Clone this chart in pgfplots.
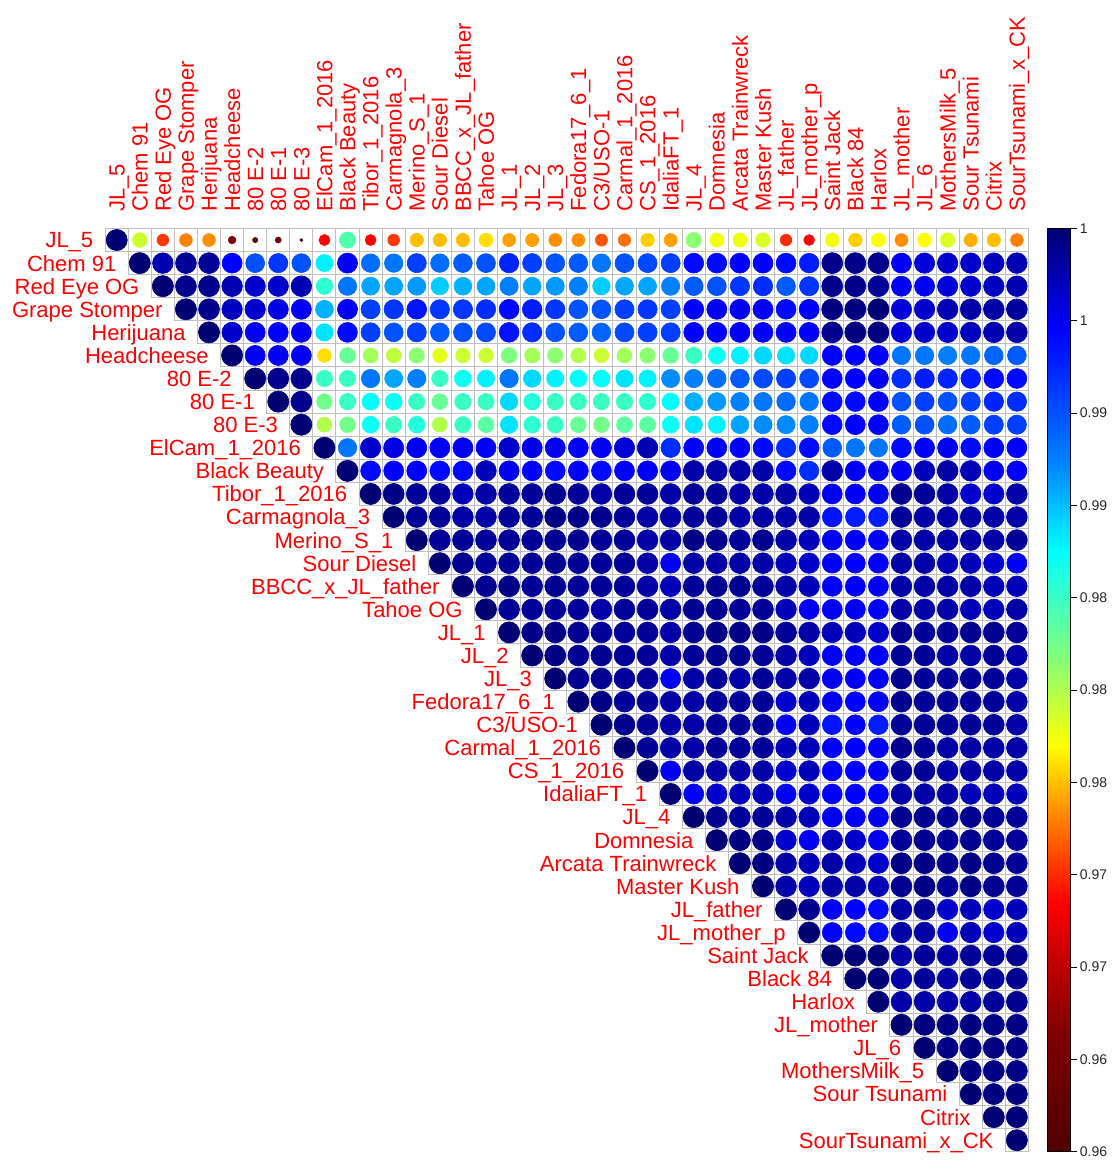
\documentclass[border=0pt]{standalone}
\usepackage{fontspec}
\setmainfont{Liberation Sans}
\usepackage{pgfplots}
\usepackage{pgfplotstable}
\pgfplotsset{compat=1.18}
\pgfplotsset{colormap={corrjet}{
 rgb255(0pt)=(80,0,0)
 rgb255(13pt)=(127,0,0)
 rgb255(27pt)=(255,0,0)
 rgb255(36pt)=(255,127,0)
 rgb255(44pt)=(255,255,0)
 rgb255(54pt)=(127,255,127)
 rgb255(65pt)=(0,255,255)
 rgb255(75pt)=(0,127,255)
 rgb255(89pt)=(0,0,255)
 rgb255(100pt)=(0,0,115)
}}
\pgfplotstableread[row sep=\\]{
c r v\\
0 0 1.0000\\ 1 0 0.9792\\ 2 0 0.9724\\ 3 0 0.9744\\ 4 0 0.9748\\ 5 0 0.9652\\ 6 0 0.9624\\ 7 0 0.9632\\ 8 0 0.9608\\ 9 0 0.9708\\ 10 0 0.9832\\ 11 0 0.9708\\ 12 0 0.9724\\ 13 0 0.9760\\ 14 0 0.9760\\ 15 0 0.9760\\ 16 0 0.9768\\ 17 0 0.9752\\ 18 0 0.9752\\ 19 0 0.9748\\ 20 0 0.9748\\ 21 0 0.9732\\ 22 0 0.9740\\ 23 0 0.9764\\ 24 0 0.9752\\ 25 0 0.9812\\ 26 0 0.9780\\ 27 0 0.9780\\ 28 0 0.9788\\ 29 0 0.9720\\ 30 0 0.9704\\ 31 0 0.9780\\ 32 0 0.9764\\ 33 0 0.9776\\ 34 0 0.9748\\ 35 0 0.9776\\ 36 0 0.9788\\ 37 0 0.9756\\ 38 0 0.9760\\ 39 0 0.9744\\
1 1 1.0000\\ 2 1 0.9980\\ 3 1 0.9988\\ 4 1 0.9988\\ 5 1 0.9956\\ 6 1 0.9920\\ 7 1 0.9932\\ 8 1 0.9920\\ 9 1 0.9864\\ 10 1 0.9960\\ 11 1 0.9908\\ 12 1 0.9904\\ 13 1 0.9928\\ 14 1 0.9908\\ 15 1 0.9916\\ 16 1 0.9920\\ 17 1 0.9940\\ 18 1 0.9928\\ 19 1 0.9920\\ 20 1 0.9916\\ 21 1 0.9904\\ 22 1 0.9920\\ 23 1 0.9924\\ 24 1 0.9928\\ 25 1 0.9952\\ 26 1 0.9952\\ 27 1 0.9956\\ 28 1 0.9956\\ 29 1 0.9952\\ 30 1 0.9944\\ 31 1 0.9992\\ 32 1 0.9992\\ 33 1 0.9992\\ 34 1 0.9960\\ 35 1 0.9968\\ 36 1 0.9972\\ 37 1 0.9972\\ 38 1 0.9976\\ 39 1 0.9980\\
2 2 1.0000\\ 3 2 0.9992\\ 4 2 0.9992\\ 5 2 0.9980\\ 6 2 0.9972\\ 7 2 0.9972\\ 8 2 0.9980\\ 9 2 0.9844\\ 10 2 0.9904\\ 11 2 0.9888\\ 12 2 0.9888\\ 13 2 0.9892\\ 14 2 0.9876\\ 15 2 0.9884\\ 16 2 0.9888\\ 17 2 0.9900\\ 18 2 0.9888\\ 19 2 0.9892\\ 20 2 0.9900\\ 21 2 0.9876\\ 22 2 0.9888\\ 23 2 0.9888\\ 24 2 0.9900\\ 25 2 0.9916\\ 26 2 0.9920\\ 27 2 0.9932\\ 28 2 0.9936\\ 29 2 0.9916\\ 30 2 0.9932\\ 31 2 0.9992\\ 32 2 0.9992\\ 33 2 0.9988\\ 34 2 0.9960\\ 35 2 0.9960\\ 36 2 0.9968\\ 37 2 0.9972\\ 38 2 0.9976\\ 39 2 0.9980\\
3 3 1.0000\\ 4 3 0.9992\\ 5 3 0.9976\\ 6 3 0.9972\\ 7 3 0.9964\\ 8 3 0.9960\\ 9 3 0.9884\\ 10 3 0.9960\\ 11 3 0.9928\\ 12 3 0.9932\\ 13 3 0.9948\\ 14 3 0.9932\\ 15 3 0.9932\\ 16 3 0.9936\\ 17 3 0.9952\\ 18 3 0.9944\\ 19 3 0.9932\\ 20 3 0.9920\\ 21 3 0.9920\\ 22 3 0.9928\\ 23 3 0.9932\\ 24 3 0.9928\\ 25 3 0.9956\\ 26 3 0.9960\\ 27 3 0.9960\\ 28 3 0.9960\\ 29 3 0.9952\\ 30 3 0.9956\\ 31 3 0.9996\\ 32 3 0.9996\\ 33 3 1.0000\\ 34 3 0.9968\\ 35 3 0.9972\\ 36 3 0.9980\\ 37 3 0.9984\\ 38 3 0.9984\\ 39 3 0.9988\\
4 4 1.0000\\ 5 4 0.9972\\ 6 4 0.9960\\ 7 4 0.9956\\ 8 4 0.9960\\ 9 4 0.9868\\ 10 4 0.9952\\ 11 4 0.9928\\ 12 4 0.9920\\ 13 4 0.9928\\ 14 4 0.9916\\ 15 4 0.9920\\ 16 4 0.9924\\ 17 4 0.9948\\ 18 4 0.9936\\ 19 4 0.9920\\ 20 4 0.9916\\ 21 4 0.9912\\ 22 4 0.9924\\ 23 4 0.9928\\ 24 4 0.9928\\ 25 4 0.9956\\ 26 4 0.9956\\ 27 4 0.9960\\ 28 4 0.9956\\ 29 4 0.9960\\ 30 4 0.9956\\ 31 4 0.9992\\ 32 4 0.9996\\ 33 4 0.9996\\ 34 4 0.9968\\ 35 4 0.9972\\ 36 4 0.9972\\ 37 4 0.9976\\ 38 4 0.9980\\ 39 4 0.9984\\
5 5 1.0000\\ 6 5 0.9960\\ 7 5 0.9960\\ 8 5 0.9960\\ 9 5 0.9768\\ 10 5 0.9824\\ 11 5 0.9804\\ 12 5 0.9796\\ 13 5 0.9812\\ 14 5 0.9784\\ 15 5 0.9792\\ 16 5 0.9792\\ 17 5 0.9816\\ 18 5 0.9804\\ 19 5 0.9812\\ 20 5 0.9800\\ 21 5 0.9792\\ 22 5 0.9804\\ 23 5 0.9812\\ 24 5 0.9824\\ 25 5 0.9840\\ 26 5 0.9856\\ 27 5 0.9864\\ 28 5 0.9872\\ 29 5 0.9868\\ 30 5 0.9872\\ 31 5 0.9956\\ 32 5 0.9956\\ 33 5 0.9956\\ 34 5 0.9904\\ 35 5 0.9904\\ 36 5 0.9900\\ 37 5 0.9904\\ 38 5 0.9912\\ 39 5 0.9916\\
6 6 1.0000\\ 7 6 0.9992\\ 8 6 0.9992\\ 9 6 0.9840\\ 10 6 0.9840\\ 11 6 0.9904\\ 12 6 0.9888\\ 13 6 0.9900\\ 14 6 0.9840\\ 15 6 0.9856\\ 16 6 0.9864\\ 17 6 0.9904\\ 18 6 0.9872\\ 19 6 0.9864\\ 20 6 0.9860\\ 21 6 0.9860\\ 22 6 0.9868\\ 23 6 0.9864\\ 24 6 0.9896\\ 25 6 0.9900\\ 26 6 0.9908\\ 27 6 0.9916\\ 28 6 0.9924\\ 29 6 0.9928\\ 30 6 0.9924\\ 31 6 0.9956\\ 32 6 0.9956\\ 33 6 0.9960\\ 34 6 0.9936\\ 35 6 0.9944\\ 36 6 0.9940\\ 37 6 0.9944\\ 38 6 0.9952\\ 39 6 0.9952\\
7 7 1.0000\\ 8 7 0.9992\\ 9 7 0.9820\\ 10 7 0.9840\\ 11 7 0.9860\\ 12 7 0.9856\\ 13 7 0.9840\\ 14 7 0.9824\\ 15 7 0.9840\\ 16 7 0.9840\\ 17 7 0.9872\\ 18 7 0.9848\\ 19 7 0.9840\\ 20 7 0.9840\\ 21 7 0.9840\\ 22 7 0.9840\\ 23 7 0.9844\\ 24 7 0.9860\\ 25 7 0.9884\\ 26 7 0.9892\\ 27 7 0.9900\\ 28 7 0.9904\\ 29 7 0.9908\\ 30 7 0.9904\\ 31 7 0.9952\\ 32 7 0.9952\\ 33 7 0.9956\\ 34 7 0.9920\\ 35 7 0.9928\\ 36 7 0.9920\\ 37 7 0.9928\\ 38 7 0.9940\\ 39 7 0.9936\\
8 8 1.0000\\ 9 8 0.9800\\ 10 8 0.9820\\ 11 8 0.9856\\ 12 8 0.9840\\ 13 8 0.9848\\ 14 8 0.9800\\ 15 8 0.9840\\ 16 8 0.9828\\ 17 8 0.9868\\ 18 8 0.9844\\ 19 8 0.9840\\ 20 8 0.9824\\ 21 8 0.9820\\ 22 8 0.9828\\ 23 8 0.9828\\ 24 8 0.9856\\ 25 8 0.9868\\ 26 8 0.9864\\ 27 8 0.9888\\ 28 8 0.9896\\ 29 8 0.9896\\ 30 8 0.9900\\ 31 8 0.9952\\ 32 8 0.9956\\ 33 8 0.9956\\ 34 8 0.9916\\ 35 8 0.9920\\ 36 8 0.9908\\ 37 8 0.9916\\ 38 8 0.9928\\ 39 8 0.9928\\
9 9 1.0000\\ 10 9 0.9904\\ 11 9 0.9972\\ 12 9 0.9964\\ 13 9 0.9960\\ 14 9 0.9960\\ 15 9 0.9960\\ 16 9 0.9956\\ 17 9 0.9972\\ 18 9 0.9964\\ 19 9 0.9960\\ 20 9 0.9956\\ 21 9 0.9960\\ 22 9 0.9968\\ 23 9 0.9980\\ 24 9 0.9936\\ 25 9 0.9956\\ 26 9 0.9956\\ 27 9 0.9956\\ 28 9 0.9952\\ 29 9 0.9936\\ 30 9 0.9952\\ 31 9 0.9916\\ 32 9 0.9904\\ 33 9 0.9904\\ 34 9 0.9952\\ 35 9 0.9956\\ 36 9 0.9960\\ 37 9 0.9952\\ 38 9 0.9956\\ 39 9 0.9956\\
10 10 1.0000\\ 11 10 0.9952\\ 12 10 0.9956\\ 13 10 0.9956\\ 14 10 0.9952\\ 15 10 0.9952\\ 16 10 0.9978\\ 17 10 0.9960\\ 18 10 0.9956\\ 19 10 0.9952\\ 20 10 0.9956\\ 21 10 0.9952\\ 22 10 0.9956\\ 23 10 0.9960\\ 24 10 0.9960\\ 25 10 0.9984\\ 26 10 0.9984\\ 27 10 0.9984\\ 28 10 0.9984\\ 29 10 0.9952\\ 30 10 0.9936\\ 31 10 0.9984\\ 32 10 0.9960\\ 33 10 0.9960\\ 34 10 0.9960\\ 35 10 0.9978\\ 36 10 0.9984\\ 37 10 0.9978\\ 38 10 0.9960\\ 39 10 0.9960\\
11 11 1.0000\\ 12 11 0.9994\\ 13 11 0.9988\\ 14 11 0.9988\\ 15 11 0.9978\\ 16 11 0.9984\\ 17 11 0.9988\\ 18 11 0.9988\\ 19 11 0.9991\\ 20 11 0.9988\\ 21 11 0.9984\\ 22 11 0.9988\\ 23 11 0.9988\\ 24 11 0.9984\\ 25 11 0.9988\\ 26 11 0.9988\\ 27 11 0.9984\\ 28 11 0.9984\\ 29 11 0.9984\\ 30 11 0.9978\\ 31 11 0.9960\\ 32 11 0.9960\\ 33 11 0.9960\\ 34 11 0.9991\\ 35 11 0.9988\\ 36 11 0.9984\\ 37 11 0.9972\\ 38 11 0.9972\\ 39 11 0.9984\\
12 12 1.0000\\ 13 12 0.9988\\ 14 12 0.9988\\ 15 12 0.9984\\ 16 12 0.9984\\ 17 12 0.9988\\ 18 12 0.9988\\ 19 12 0.9994\\ 20 12 0.9994\\ 21 12 0.9991\\ 22 12 0.9988\\ 23 12 0.9984\\ 24 12 0.9984\\ 25 12 0.9988\\ 26 12 0.9988\\ 27 12 0.9984\\ 28 12 0.9984\\ 29 12 0.9984\\ 30 12 0.9984\\ 31 12 0.9948\\ 32 12 0.9944\\ 33 12 0.9944\\ 34 12 0.9988\\ 35 12 0.9984\\ 36 12 0.9984\\ 37 12 0.9984\\ 38 12 0.9984\\ 39 12 0.9984\\
13 13 1.0000\\ 14 13 0.9988\\ 15 13 0.9988\\ 16 13 0.9988\\ 17 13 0.9988\\ 18 13 0.9988\\ 19 13 0.9991\\ 20 13 0.9991\\ 21 13 0.9988\\ 22 13 0.9988\\ 23 13 0.9984\\ 24 13 0.9984\\ 25 13 0.9994\\ 26 13 0.9991\\ 27 13 0.9988\\ 28 13 0.9991\\ 29 13 0.9984\\ 30 13 0.9978\\ 31 13 0.9960\\ 32 13 0.9960\\ 33 13 0.9956\\ 34 13 0.9984\\ 35 13 0.9984\\ 36 13 0.9984\\ 37 13 0.9984\\ 38 13 0.9984\\ 39 13 0.9988\\
14 14 1.0000\\ 15 14 0.9991\\ 16 14 0.9988\\ 17 14 0.9988\\ 18 14 0.9988\\ 19 14 0.9991\\ 20 14 0.9988\\ 21 14 0.9988\\ 22 14 0.9988\\ 23 14 0.9984\\ 24 14 0.9960\\ 25 14 0.9984\\ 26 14 0.9984\\ 27 14 0.9984\\ 28 14 0.9984\\ 29 14 0.9978\\ 30 14 0.9972\\ 31 14 0.9956\\ 32 14 0.9956\\ 33 14 0.9956\\ 34 14 0.9984\\ 35 14 0.9984\\ 36 14 0.9978\\ 37 14 0.9978\\ 38 14 0.9972\\ 39 14 0.9960\\
15 15 1.0000\\ 16 15 0.9991\\ 17 15 0.9994\\ 18 15 0.9988\\ 19 15 0.9991\\ 20 15 0.9988\\ 21 15 0.9988\\ 22 15 0.9988\\ 23 15 0.9984\\ 24 15 0.9978\\ 25 15 0.9988\\ 26 15 0.9991\\ 27 15 0.9991\\ 28 15 0.9988\\ 29 15 0.9984\\ 30 15 0.9978\\ 31 15 0.9956\\ 32 15 0.9960\\ 33 15 0.9960\\ 34 15 0.9984\\ 35 15 0.9984\\ 36 15 0.9984\\ 37 15 0.9984\\ 38 15 0.9978\\ 39 15 0.9978\\
16 16 1.0000\\ 17 16 0.9988\\ 18 16 0.9988\\ 19 16 0.9988\\ 20 16 0.9988\\ 21 16 0.9984\\ 22 16 0.9988\\ 23 16 0.9988\\ 24 16 0.9984\\ 25 16 0.9991\\ 26 16 0.9991\\ 27 16 0.9988\\ 28 16 0.9988\\ 29 16 0.9978\\ 30 16 0.9960\\ 31 16 0.9960\\ 32 16 0.9960\\ 33 16 0.9956\\ 34 16 0.9984\\ 35 16 0.9984\\ 36 16 0.9984\\ 37 16 0.9978\\ 38 16 0.9978\\ 39 16 0.9984\\
17 17 1.0000\\ 18 17 0.9994\\ 19 17 0.9994\\ 20 17 0.9991\\ 21 17 0.9988\\ 22 17 0.9988\\ 23 17 0.9988\\ 24 17 0.9984\\ 25 17 0.9991\\ 26 17 0.9994\\ 27 17 0.9994\\ 28 17 0.9994\\ 29 17 0.9988\\ 30 17 0.9984\\ 31 17 0.9978\\ 32 17 0.9978\\ 33 17 0.9972\\ 34 17 0.9991\\ 35 17 0.9988\\ 36 17 0.9988\\ 37 17 0.9991\\ 38 17 0.9991\\ 39 17 0.9988\\
18 18 1.0000\\ 19 18 0.9994\\ 20 18 0.9991\\ 21 18 0.9991\\ 22 18 0.9988\\ 23 18 0.9988\\ 24 18 0.9984\\ 25 18 0.9988\\ 26 18 0.9991\\ 27 18 0.9991\\ 28 18 0.9988\\ 29 18 0.9984\\ 30 18 0.9978\\ 31 18 0.9960\\ 32 18 0.9960\\ 33 18 0.9956\\ 34 18 0.9988\\ 35 18 0.9988\\ 36 18 0.9984\\ 37 18 0.9984\\ 38 18 0.9988\\ 39 18 0.9984\\
19 19 1.0000\\ 20 19 0.9991\\ 21 19 0.9991\\ 22 19 0.9988\\ 23 19 0.9988\\ 24 19 0.9960\\ 25 19 0.9984\\ 26 19 0.9988\\ 27 19 0.9984\\ 28 19 0.9988\\ 29 19 0.9984\\ 30 19 0.9984\\ 31 19 0.9960\\ 32 19 0.9960\\ 33 19 0.9960\\ 34 19 0.9991\\ 35 19 0.9988\\ 36 19 0.9988\\ 37 19 0.9988\\ 38 19 0.9988\\ 39 19 0.9984\\
20 20 1.0000\\ 21 20 0.9994\\ 22 20 0.9988\\ 23 20 0.9988\\ 24 20 0.9984\\ 25 20 0.9984\\ 26 20 0.9988\\ 27 20 0.9988\\ 28 20 0.9988\\ 29 20 0.9972\\ 30 20 0.9978\\ 31 20 0.9960\\ 32 20 0.9956\\ 33 20 0.9960\\ 34 20 0.9991\\ 35 20 0.9988\\ 36 20 0.9988\\ 37 20 0.9988\\ 38 20 0.9988\\ 39 20 0.9984\\
21 21 1.0000\\ 22 21 0.9991\\ 23 21 0.9988\\ 24 21 0.9984\\ 25 21 0.9984\\ 26 21 0.9988\\ 27 21 0.9988\\ 28 21 0.9988\\ 29 21 0.9960\\ 30 21 0.9978\\ 31 21 0.9948\\ 32 21 0.9956\\ 33 21 0.9944\\ 34 21 0.9988\\ 35 21 0.9988\\ 36 21 0.9988\\ 37 21 0.9988\\ 38 21 0.9988\\ 39 21 0.9984\\
22 22 1.0000\\ 23 22 0.9988\\ 24 22 0.9984\\ 25 22 0.9984\\ 26 22 0.9988\\ 27 22 0.9988\\ 28 22 0.9988\\ 29 22 0.9978\\ 30 22 0.9978\\ 31 22 0.9956\\ 32 22 0.9956\\ 33 22 0.9956\\ 34 22 0.9991\\ 35 22 0.9988\\ 36 22 0.9984\\ 37 22 0.9984\\ 38 22 0.9984\\ 39 22 0.9984\\
23 23 1.0000\\ 24 23 0.9960\\ 25 23 0.9984\\ 26 23 0.9984\\ 27 23 0.9984\\ 28 23 0.9984\\ 29 23 0.9972\\ 30 23 0.9978\\ 31 23 0.9956\\ 32 23 0.9956\\ 33 23 0.9956\\ 34 23 0.9988\\ 35 23 0.9988\\ 36 23 0.9984\\ 37 23 0.9984\\ 38 23 0.9984\\ 39 23 0.9984\\
24 24 1.0000\\ 25 24 0.9960\\ 26 24 0.9972\\ 27 24 0.9978\\ 28 24 0.9978\\ 29 24 0.9960\\ 30 24 0.9972\\ 31 24 0.9956\\ 32 24 0.9956\\ 33 24 0.9956\\ 34 24 0.9984\\ 35 24 0.9984\\ 36 24 0.9984\\ 37 24 0.9978\\ 38 24 0.9978\\ 39 24 0.9978\\
25 25 1.0000\\ 26 25 0.9991\\ 27 25 0.9988\\ 28 25 0.9988\\ 29 25 0.9984\\ 30 25 0.9978\\ 31 25 0.9960\\ 32 25 0.9960\\ 33 25 0.9960\\ 34 25 0.9991\\ 35 25 0.9991\\ 36 25 0.9988\\ 37 25 0.9991\\ 38 25 0.9988\\ 39 25 0.9988\\
26 26 1.0000\\ 27 26 0.9996\\ 28 26 0.9994\\ 29 26 0.9972\\ 30 26 0.9960\\ 31 26 0.9978\\ 32 26 0.9972\\ 33 26 0.9960\\ 34 26 0.9988\\ 35 26 0.9991\\ 36 26 0.9988\\ 37 26 0.9991\\ 38 26 0.9988\\ 39 26 0.9988\\
27 27 1.0000\\ 28 27 0.9996\\ 29 27 0.9984\\ 30 27 0.9978\\ 31 27 0.9984\\ 32 27 0.9978\\ 33 27 0.9972\\ 34 27 0.9994\\ 35 27 0.9994\\ 36 27 0.9991\\ 37 27 0.9994\\ 38 27 0.9991\\ 39 27 0.9988\\
28 28 1.0000\\ 29 28 0.9984\\ 30 28 0.9978\\ 31 28 0.9984\\ 32 28 0.9984\\ 33 28 0.9978\\ 34 28 0.9991\\ 35 28 0.9994\\ 36 28 0.9988\\ 37 28 0.9994\\ 38 28 0.9991\\ 39 28 0.9988\\
29 29 1.0000\\ 30 29 0.9991\\ 31 29 0.9956\\ 32 29 0.9956\\ 33 29 0.9952\\ 34 29 0.9984\\ 35 29 0.9988\\ 36 29 0.9972\\ 37 29 0.9978\\ 38 29 0.9972\\ 39 29 0.9978\\
30 30 1.0000\\ 31 30 0.9956\\ 32 30 0.9952\\ 33 30 0.9952\\ 34 30 0.9984\\ 35 30 0.9984\\ 36 30 0.9960\\ 37 30 0.9978\\ 38 30 0.9972\\ 39 30 0.9978\\
31 31 1.0000\\ 32 31 0.9998\\ 33 31 0.9998\\ 34 31 0.9984\\ 35 31 0.9988\\ 36 31 0.9984\\ 37 31 0.9988\\ 38 31 0.9988\\ 39 31 0.9991\\
32 32 1.0000\\ 33 32 0.9998\\ 34 32 0.9984\\ 35 32 0.9988\\ 36 32 0.9984\\ 37 32 0.9988\\ 38 32 0.9988\\ 39 32 0.9991\\
33 33 1.0000\\ 34 33 0.9984\\ 35 33 0.9984\\ 36 33 0.9984\\ 37 33 0.9984\\ 38 33 0.9988\\ 39 33 0.9991\\
34 34 1.0000\\ 35 34 0.9996\\ 36 34 0.9994\\ 37 34 0.9996\\ 38 34 0.9994\\ 39 34 0.9994\\
35 35 1.0000\\ 36 35 0.9994\\ 37 35 0.9996\\ 38 35 0.9996\\ 39 35 0.9994\\
36 36 1.0000\\ 37 36 0.9996\\ 38 36 0.9994\\ 39 36 0.9994\\
37 37 1.0000\\ 38 37 0.9996\\ 39 37 0.9996\\
38 38 1.0000\\ 39 38 0.9998\\
39 39 1.0000\\
}\corrdata

\begin{document}
\begin{tikzpicture}
\begin{axis}[
  scale only axis,
  width=461.6pt, height=461.6pt,
  xmin=-0.5, xmax=39.5, ymin=-39.5, ymax=0.5,
  axis line style={draw=none},
  tick style={draw=none},
  major tick length=0pt,
  clip=false,
  colormap name=corrjet,
  point meta min=0.96, point meta max=1,
  xtick={0,...,39},
  ytick=\empty,
  xticklabel pos=upper,
  xticklabels={JL\_5,Chem 91,Red Eye OG,Grape Stomper,Herijuana,Headcheese,80 E-2,80 E-1,80 E-3,ElCam\_1\_2016,Black Beauty,Tibor\_1\_2016,Carmagnola\_3,Merino\_S\_1,Sour Diesel,BBCC\_x\_JL\_father,Tahoe OG,JL\_1,JL\_2,JL\_3,Fedora17\_6\_1,C3/USO-1,Carmal\_1\_2016,CS\_1\_2016,IdaliaFT\_1,JL\_4,Domnesia,Arcata Trainwreck,Master Kush,JL\_father,JL\_mother\_p,Saint Jack,Black 84,Harlox,JL\_mother,JL\_6,MothersMilk\_5,Sour Tsunami,Citrix,SourTsunami\_x\_CK},
  xticklabel style={rotate=90, anchor=west, inner xsep=8.25pt, inner ysep=0pt,
    text height=7.9pt, text depth=0pt, font=\fontsize{11}{13}\selectfont, text=red},
  colorbar,
  colorbar style={
    at={(parent axis.north east)}, anchor=north west, xshift=1pt,
    width=11.5pt, height=461.6pt,
    axis line style={draw=black, line width=0.4pt},
    ytick={0.96,0.964,0.968,0.972,0.976,0.98,0.984,0.988,0.992,0.996,1},
    yticklabels={0.96,0.96,0.97,0.97,0.98,0.98,0.98,0.99,0.99,1,1},
    yticklabel style={font=\fontsize{7}{8}\selectfont, text=black!85, inner xsep=1.5pt},
    ytick pos=right, tick align=outside, major tick length=3pt,
    tick style={draw=black, line width=0.4pt},
  },
]
% grid cells
\addplot[only marks, mark=square*, mark size=5.77pt,
  mark options={draw=gray!50, fill=white, line width=0.5pt}]
  table[x=c, y expr=-\thisrow{r}] {\corrdata};
% circles
\addplot[scatter, only marks, mark=*,
  point meta=\thisrow{v},
  scatter/use mapped color={draw=mapped color, fill=mapped color},
  visualization depends on={5.3*sqrt(max((\thisrow{v}-0.96)/0.04,0)) \as \rr},
  scatter/@pre marker code/.append style={/tikz/mark size=\rr},
  mark options={line width=0.3pt}]
  table[x=c, y expr=-\thisrow{r}] {\corrdata};
% row labels
\addplot[draw=none, mark=none, point meta=explicit symbolic,
  nodes near coords, nodes near coords align={anchor=east},
  every node near coord/.append style={anchor=east, xshift=-11.54pt, inner sep=0pt,
    text height=7.9pt, text depth=0pt, font=\fontsize{11}{13}\selectfont, text=red}]
  coordinates {
  (0,0) [JL\_5] (1,-1) [Chem 91] (2,-2) [Red Eye OG] (3,-3) [Grape Stomper]
  (4,-4) [Herijuana] (5,-5) [Headcheese] (6,-6) [80 E-2] (7,-7) [80 E-1]
  (8,-8) [80 E-3] (9,-9) [ElCam\_1\_2016] (10,-10) [Black Beauty] (11,-11) [Tibor\_1\_2016]
  (12,-12) [Carmagnola\_3] (13,-13) [Merino\_S\_1] (14,-14) [Sour Diesel] (15,-15) [BBCC\_x\_JL\_father]
  (16,-16) [Tahoe OG] (17,-17) [JL\_1] (18,-18) [JL\_2] (19,-19) [JL\_3]
  (20,-20) [Fedora17\_6\_1] (21,-21) [C3/USO-1] (22,-22) [Carmal\_1\_2016] (23,-23) [CS\_1\_2016]
  (24,-24) [IdaliaFT\_1] (25,-25) [JL\_4] (26,-26) [Domnesia] (27,-27) [Arcata Trainwreck]
  (28,-28) [Master Kush] (29,-29) [JL\_father] (30,-30) [JL\_mother\_p] (31,-31) [Saint Jack]
  (32,-32) [Black 84] (33,-33) [Harlox] (34,-34) [JL\_mother] (35,-35) [JL\_6]
  (36,-36) [MothersMilk\_5] (37,-37) [Sour Tsunami] (38,-38) [Citrix] (39,-39) [SourTsunami\_x\_CK]
  };
\coordinate (bbsw) at (axis cs:-5.056,-39.90);
\coordinate (bbne) at (axis cs:43.34,10.40);
\end{axis}
\pgfresetboundingbox
\useasboundingbox (bbsw) rectangle (bbne);
\end{tikzpicture}
\end{document}
